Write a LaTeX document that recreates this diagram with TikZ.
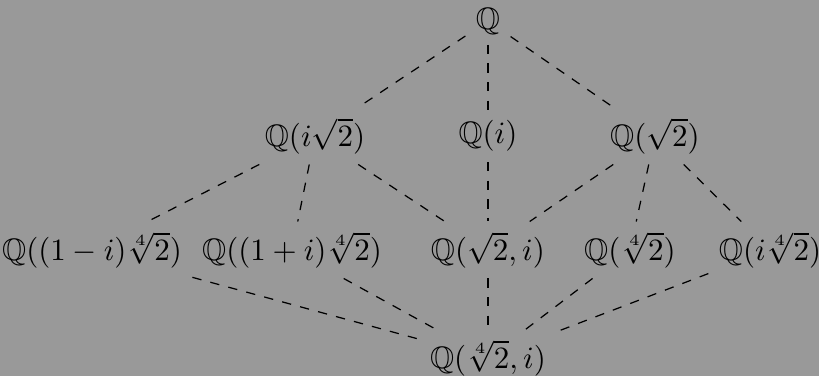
\documentclass[tikz,border=0pt]{standalone}
\usepackage{amssymb}
\begin{document}
\begin{tikzpicture}[x=0.3225pt,y=-0.3225pt,
  fld/.style={inner sep=3.2pt, text=black},
  ln/.style={dashed, black, line width=0.4pt}]
\fill[black!40] (0,0) rectangle (819,376);
\useasboundingbox (0,0) rectangle (819,376);
\node[fld] (q) at (488,21) {$\mathbb{Q}$};
\node[fld] (a) at (315,136) {$\mathbb{Q}(i\sqrt{2})$};
\node[fld] (b) at (488,136) {$\mathbb{Q}(i)$};
\node[fld] (c) at (655,136) {$\mathbb{Q}(\sqrt{2})$};
\node[fld] (d) at (92,250) {$\mathbb{Q}((1-i)\sqrt[4]{2})$};
\node[fld] (e) at (292,250) {$\mathbb{Q}((1+i)\sqrt[4]{2})$};
\node[fld] (f) at (488,250) {$\mathbb{Q}(\sqrt{2},i)$};
\node[fld] (g) at (630,250) {$\mathbb{Q}(\sqrt[4]{2})$};
\node[fld] (h) at (770,250) {$\mathbb{Q}(i\sqrt[4]{2})$};
\node[fld] (z) at (488,358) {$\mathbb{Q}(\sqrt[4]{2},i)$};
\foreach \s/\t in {q/a,q/b,q/c,a/d,a/e,a/f,b/f,c/f,c/g,c/h,d/z,e/z,f/z,g/z,h/z}
  \draw[ln] (\s) -- (\t);
\end{tikzpicture}
\end{document}
